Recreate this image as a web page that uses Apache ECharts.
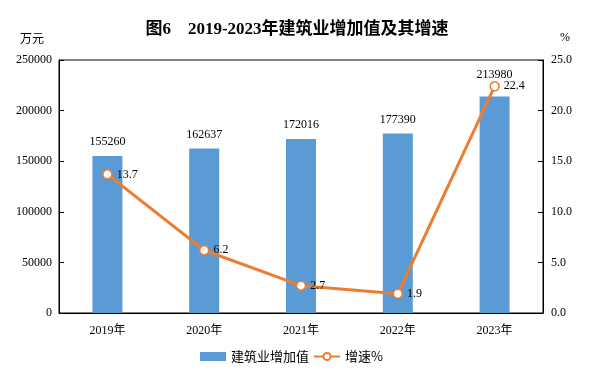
<!DOCTYPE html>
<html><head><meta charset="utf-8">
<script src="https://cdn.jsdelivr.net/npm/echarts@6/dist/echarts.min.js"></script>
<style>html,body{margin:0;padding:0;background:#fff}#c{width:594px;height:385px}</style>
</head><body><div id="c"></div>
<script>
const categories = ['2019年','2020年','2021年','2022年','2023年'];
const valueAdded = [155260, 162637, 172016, 177390, 213980];
const growth = [13.7, 6.2, 2.7, 1.9, 22.4];
const leftTicks = {min:0, max:250000, interval:50000};
const rightTicks = {min:0, max:25, interval:5};

const serif = '"Liberation Serif","Times New Roman","Noto Sans CJK SC",serif';
const chart = echarts.init(document.getElementById('c'));
const barData = valueAdded.map((v,i)=> i===valueAdded.length-1 ? {value:v, label:{distance:16}} : v);
chart.setOption({
  animation:false,
  title:{text:'图6　2019-2023年建筑业增加值及其增速', left:'center', top:16,
    textStyle:{fontFamily:serif, fontSize:17, fontWeight:'bold', color:'#000'}},
  grid:{left:59, right:51, top:60, bottom:72, show:true, borderColor:'#000', borderWidth:1, containLabel:false},
  legend:{bottom:17, left:195, itemGap:4, itemWidth:26, itemHeight:9,
    textStyle:{fontFamily:'"Noto Sans CJK SC",sans-serif', fontSize:13, color:'#000'},
    data:[{name:'建筑业增加值', icon:'rect', itemStyle:{color:'#5B9BD5'}}, {name:'增速%', itemStyle:{color:'#fff', borderColor:'#ED7D31'}}]},
  xAxis:{type:'category', data:categories, boundaryGap:true,
    axisLine:{lineStyle:{color:'#000', width:1}},
    axisTick:{inside:true, length:5, lineStyle:{color:'#000'}},
    axisLabel:{fontFamily:serif, fontSize:12, color:'#000', margin:12}},
  yAxis:[
    {type:'value', name:'万元', nameLocation:'end', nameGap:16,
     nameTextStyle:{fontFamily:'"Noto Sans CJK SC",sans-serif', fontSize:12, color:'#000', align:'right', padding:[0,15,0,0]},
     min:leftTicks.min, max:leftTicks.max, interval:leftTicks.interval,
     axisLine:{show:true, lineStyle:{color:'#000'}},
     axisTick:{show:true, inside:true, length:5, lineStyle:{color:'#000'}},
     splitLine:{show:false},
     axisLabel:{fontFamily:serif, fontSize:12, color:'#000', margin:7, formatter:v=>String(v)}},
    {type:'value', name:'%', nameLocation:'end', nameGap:16,
     nameTextStyle:{fontFamily:serif, fontSize:12, color:'#000', align:'left', padding:[0,0,0,17]},
     min:rightTicks.min, max:rightTicks.max, interval:rightTicks.interval,
     axisLine:{show:true, lineStyle:{color:'#000'}},
     axisTick:{show:true, inside:true, length:5, lineStyle:{color:'#000'}},
     splitLine:{show:false},
     axisLabel:{fontFamily:serif, fontSize:12, color:'#000', margin:8,
       formatter:v=>v.toFixed(1)}}
  ],
  series:[
    {name:'建筑业增加值', type:'bar', data:barData, barWidth:'31%',
     itemStyle:{color:'#5B9BD5'},
     label:{show:true, position:'top', distance:8, fontFamily:serif, fontSize:12, color:'#000'}},
    {name:'增速%', type:'line', yAxisIndex:1, data:growth,
     lineStyle:{color:'#ED7D31', width:3}, itemStyle:{color:'#fff', borderColor:'#ED7D31', borderWidth:1.5},
     symbol:'circle', symbolSize:9, showAllSymbol:true,
     emphasis:{disabled:true},
     label:{show:true, position:'right', distance:4, fontFamily:serif, fontSize:12, color:'#000',
       formatter:p=>p.value.toFixed(1)}}
  ]
});
</script></body></html>
